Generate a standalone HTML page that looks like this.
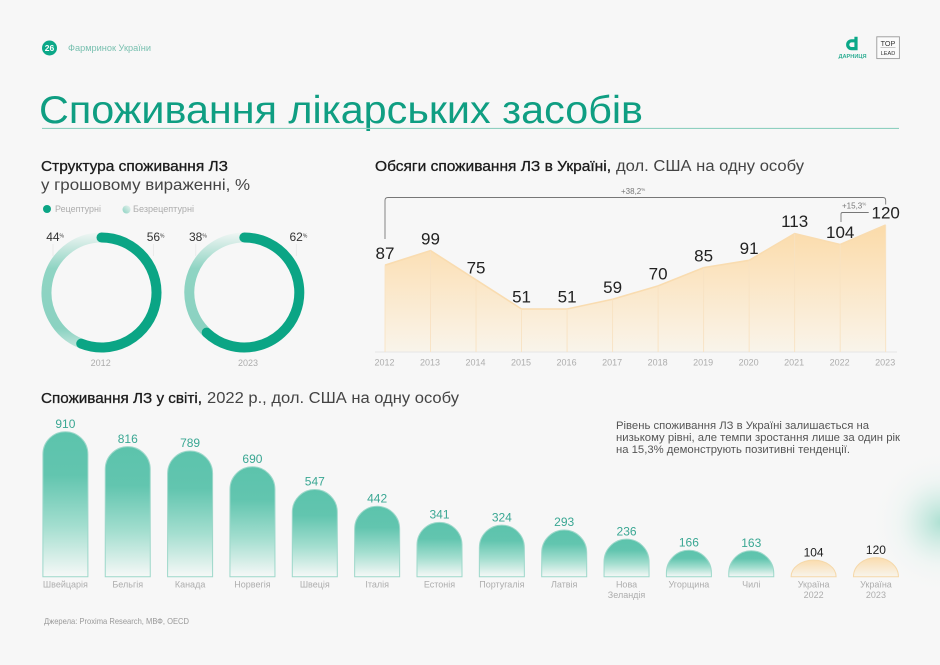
<!DOCTYPE html>
<html lang="uk">
<head>
<meta charset="utf-8">
<title>Споживання лікарських засобів</title>
<style>
html,body{margin:0;padding:0;background:#f7f7f7;}
svg{display:block;font-family:"Liberation Sans","DejaVu Sans",sans-serif;}
.semi{fill:#1c1c1c;stroke:#1c1c1c;stroke-width:.3px;}
.reg{fill:#444;}
.muted{fill:#adadad;font-size:9px;}
</style>
</head>
<body>
<svg id="page" xmlns="http://www.w3.org/2000/svg" width="940" height="665" viewBox="0 0 940 665">
<defs>
<radialGradient id="glow"><stop offset="0" stop-color="#9fdccb" stop-opacity=".85"/><stop offset=".3" stop-color="#a9e0d1" stop-opacity=".45"/><stop offset=".6" stop-color="#c5eadf" stop-opacity=".15"/><stop offset="1" stop-color="#f7f7f7" stop-opacity="0"/></radialGradient>
<linearGradient id="areaFill" x1="0" y1="0" x2="0" y2="1"><stop offset="0" stop-color="#fbdba9"/><stop offset=".45" stop-color="#fbe6c6"/><stop offset="1" stop-color="#f9f4ea"/></linearGradient>
<linearGradient id="barGreen" x1="0" y1="0" x2="0" y2="1"><stop offset="0" stop-color="#5cc3ac"/><stop offset=".3" stop-color="#62c5af"/><stop offset=".65" stop-color="#a3decf"/><stop offset="1" stop-color="#f6f8f7"/></linearGradient>
<linearGradient id="barOrange" x1="0" y1="0" x2="0" y2="1"><stop offset="0" stop-color="#fadcae"/><stop offset="1" stop-color="#f8f4ec"/></linearGradient>
<linearGradient id="legendLight" x1="1" y1="0" x2="0" y2="1"><stop offset="0" stop-color="#e9f3f0"/><stop offset="1" stop-color="#8bd2c1"/></linearGradient>
</defs>
<rect width="940" height="665" fill="#f7f7f7"/>
<circle cx="942" cy="522" r="72" fill="url(#glow)"/>

<g>
  <circle cx="49.5" cy="48" r="7.5" fill="#0ba888"/>
  <text x="49.5" y="51" text-anchor="middle" font-size="8.5" font-weight="700" fill="#fff">26</text>
  <text x="68" y="51" font-size="9" fill="#79c0b0" textLength="83" lengthAdjust="spacingAndGlyphs">Фармринок України</text>
  <path d="M856 36.8V48.6H851.6A3.9 3.9 0 0 1 851.6 40.8H856" fill="none" stroke="#0ba888" stroke-width="3.2"/>
  <text x="852.5" y="58" text-anchor="middle" font-size="5" font-weight="700" fill="#2fae94" textLength="28" lengthAdjust="spacingAndGlyphs">ДАРНИЦЯ</text>
  <rect x="876.8" y="36.8" width="22.6" height="21.8" fill="#fbfbfb" stroke="#9a9a9a" stroke-width=".9"/>
  <text x="888" y="45.8" text-anchor="middle" font-size="7.2" fill="#333">TOP</text>
  <line x1="880.5" y1="47.6" x2="895.5" y2="47.6" stroke="#aaa" stroke-width=".6"/>
  <text x="888" y="54.8" text-anchor="middle" font-size="5.6" fill="#333">LEAD</text>
</g>

<text x="39" y="123" font-size="39" fill="#0f9e82" textLength="604" lengthAdjust="spacingAndGlyphs">Споживання лікарських засобів</text>
<line x1="42" y1="128.4" x2="899" y2="128.4" stroke="#8fd0c0" stroke-width="1.1"/>

<g id="donutSection">
  <text class="semi" x="41" y="171" font-size="15" textLength="187" lengthAdjust="spacingAndGlyphs">Структура споживання ЛЗ</text>
  <text class="reg" x="41" y="190" font-size="16" textLength="209" lengthAdjust="spacingAndGlyphs">у грошовому вираженні, %</text>
  <g>
    <circle cx="47" cy="209" r="4" fill="#0ba585"/>
    <text class="muted" x="55" y="212" textLength="46" lengthAdjust="spacingAndGlyphs">Рецептурні</text>
  </g>
  <g>
    <circle cx="126.5" cy="209.5" r="4" fill="url(#legendLight)"/>
    <text class="muted" x="133" y="212" textLength="61" lengthAdjust="spacingAndGlyphs">Безрецептурні</text>
  </g>
</g>

<g id="lineSection">
  <text class="semi" x="375" y="171" font-size="15" textLength="236" lengthAdjust="spacingAndGlyphs">Обсяги споживання ЛЗ в Україні,</text>
  <text class="reg" x="616" y="171" font-size="15.5" textLength="188" lengthAdjust="spacingAndGlyphs">дол. США на одну особу</text>
  <path d="M385 239V200.5Q385 197.5 388 197.5H883Q885.7 197.5 885.7 200.5V204.5" fill="none" stroke="#777" stroke-width=".9"/>
  <text x="621" y="194" font-size="8" fill="#777">+38,2<tspan font-size="4.5" dy="-3">%</tspan></text>
  <path d="M841 222V214Q841 212.5 842.5 212.5H868.7" fill="none" stroke="#777" stroke-width=".9"/>
  <text x="842" y="208.5" font-size="8" fill="#777">+15,3<tspan font-size="4.5" dy="-3">%</tspan></text>
</g>

<g id="barSection">
  <text class="semi" x="41" y="403" font-size="15" textLength="161" lengthAdjust="spacingAndGlyphs">Споживання ЛЗ у світі,</text>
  <text class="reg" x="207" y="403" font-size="15.5" textLength="252" lengthAdjust="spacingAndGlyphs">2022 р., дол. США на одну особу</text>
</g>

<g>
  <text x="616" y="429" font-size="11.3" fill="#555" textLength="253" lengthAdjust="spacingAndGlyphs">Рівень споживання ЛЗ в Україні залишається на</text>
  <text x="616" y="441" font-size="11.3" fill="#555" textLength="284" lengthAdjust="spacingAndGlyphs">низькому рівні, але темпи зростання лише за один рік</text>
  <text x="616" y="453" font-size="11.3" fill="#555" textLength="234" lengthAdjust="spacingAndGlyphs">на 15,3% демонструють позитивні тенденції.</text>
</g>
<text x="44" y="624" font-size="8.5" fill="#999" textLength="145" lengthAdjust="spacingAndGlyphs">Джерела: Proxima Research, МВФ, OECD</text>

<script>
var donutYears = ['2012', '2023'];
var prescriptionShares = [56, 62];
var otcShares = [44, 38];

var lineYears = ['2012','2013','2014','2015','2016','2017','2018','2019','2020','2021','2022','2023'];
var lineValues = [87, 99, 75, 51, 51, 59, 70, 85, 91, 113, 104, 120];

var barCountries = [['Швейцарія'],['Бельгія'],['Канада'],['Норвегія'],['Швеція'],['Італія'],['Естонія'],['Португалія'],['Латвія'],['Нова','Зеландія'],['Угорщина'],['Чилі'],['Україна','2022'],['Україна','2023']];
var barValues = [910, 816, 789, 690, 547, 442, 341, 324, 293, 236, 166, 163, 104, 120];
var barHighlighted = [false,false,false,false,false,false,false,false,false,false,false,false,true,true];

var NS = 'http://www.w3.org/2000/svg';
function mk(tag, parent, attrs, txt) {
  var e = document.createElementNS(NS, tag);
  for (var k in attrs) e.setAttribute(k, attrs[k]);
  if (txt !== undefined) e.textContent = txt;
  parent.appendChild(e);
  return e;
}

/* ---------- donuts ---------- */
var donutSection = document.getElementById('donutSection');
var svgDefs = document.querySelector('defs');
var donutCx = function (i) { return 101.5 + i * 142.8; };
var donutCy = 292.5, donutR = 55;
var labelYearX = function (i) { return 100.7 + i * 147.3; };
function polar(cx, cy, r, pct) {
  var a = pct / 100 * 2 * Math.PI;
  return [cx + r * Math.sin(a), cy - r * Math.cos(a)];
}
function arcPath(cx, cy, r, fromPct, toPct) {
  var s = polar(cx, cy, r, fromPct), e = polar(cx, cy, r, toPct);
  var large = (toPct - fromPct) > 50 ? 1 : 0;
  return 'M' + s[0] + ' ' + s[1] + 'A' + r + ' ' + r + ' 0 ' + large + ' 1 ' + e[0] + ' ' + e[1];
}
var otcGrad = mk('linearGradient', svgDefs, {id: 'otcGrad', gradientUnits: 'userSpaceOnUse', x1: 0, y1: donutCy - 60, x2: 0, y2: donutCy + 60});
mk('stop', otcGrad, {offset: 0, 'stop-color': '#f0f6f4'});
mk('stop', otcGrad, {offset: .12, 'stop-color': '#c9e8e0'});
mk('stop', otcGrad, {offset: .3, 'stop-color': '#8fd4c3'});
mk('stop', otcGrad, {offset: .8, 'stop-color': '#8bd2c1'});
mk('stop', otcGrad, {offset: 1, 'stop-color': '#cfeae3'});
donutYears.forEach(function (year, i) {
  var cx = donutCx(i);
  var g = mk('g', donutSection, {});
  
  
  var light = mk('path', g, {d: arcPath(cx, donutCy, donutR, prescriptionShares[i], prescriptionShares[i] + otcShares[i] - 0.01), fill: 'none', stroke: 'url(#otcGrad)', 'stroke-width': 10});
  
  
  var dark = mk('path', g, {d: arcPath(cx, donutCy, donutR, 0, prescriptionShares[i]), fill: 'none', stroke: '#0ba585', 'stroke-width': 10, 'stroke-linecap': 'round'});
  
  
  var pairs = [[otcShares[i], cx - 48.5], [prescriptionShares[i], cx + 52]];
  pairs.forEach(function (p) {
    var leader = mk('line', g, {x1: p[1], x2: p[1], y1: 244, y2: 256, stroke: '#e6e6e6', 'stroke-width': .7});
    
    
    var t = mk('text', g, {x: p[1] - 6.8, y: 241, 'font-size': 12, fill: '#333'}, p[0]);
    
    
    mk('tspan', t, {'font-size': 5, dy: -3.5}, '%');
  });
  var yl = mk('text', g, {x: labelYearX(i), y: 366, 'text-anchor': 'middle', class: 'muted'}, year);
  
  
});

/* ---------- area chart ---------- */
var lineSection = document.getElementById('lineSection');
var lineBase = 352;
function lineX(i) { return 385 + i * (500.7 / (lineYears.length - 1)); }
function lineY(v) { return 309 - (v - 51) * 1.217; }
var linePoints = lineValues.map(function (v, i) { return lineX(i) + ' ' + lineY(v); }).join('L');
var area = mk('path', lineSection, {d: 'M' + lineX(0) + ' ' + lineBase + 'L' + linePoints + 'L' + lineX(lineValues.length - 1) + ' ' + lineBase + 'Z', fill: 'url(#areaFill)'});


var topLine = mk('path', lineSection, {d: 'M' + linePoints, fill: 'none', stroke: '#f9dcb0', 'stroke-width': 1.6});


var axisLine = mk('line', lineSection, {x1: 375, x2: 897, y1: lineBase, y2: lineBase, stroke: '#e6e6e6', 'stroke-width': 1});


lineValues.forEach(function (v, i) {
  var x = lineX(i), y = lineY(v);
  var drop = mk('line', lineSection, {x1: x, x2: x, y1: y, y2: lineBase, stroke: '#f8e2c2', 'stroke-width': .9});
  
  
  var val = mk('text', lineSection, {x: x, y: y - 6.3, 'text-anchor': 'middle', 'font-size': 17, fill: '#222'}, v);
  
  
  var tick = mk('text', lineSection, {x: x - 0.5, y: 365.5, 'text-anchor': 'middle', class: 'muted'}, lineYears[i]);
  
  
});

/* ---------- bars ---------- */
var barSection = document.getElementById('barSection');
var barBase = 576.7, barW = 45, barR = 22.5;
function barX(i) { return 42.9 + i * 62.35; }
function barH(v) { return v * (145 / 910); }
barValues.forEach(function (v, i) {
  var x = barX(i), h = barH(v), t = barBase - h, d;
  if (h >= barR) {
    d = 'M' + x + ' ' + barBase + 'V' + (t + barR) + 'A' + barR + ' ' + barR + ' 0 0 1 ' + (x + barW) + ' ' + (t + barR) + 'V' + barBase + 'Z';
  } else {
    d = 'M' + x + ' ' + barBase + 'A' + barR + ' ' + h + ' 0 0 1 ' + (x + barW) + ' ' + barBase + 'Z';
  }
  var hi = barHighlighted[i];
  var bar = mk('path', barSection, {d: d, fill: hi ? 'url(#barOrange)' : 'url(#barGreen)', stroke: hi ? '#f5d8a9' : '#9dd8ca', 'stroke-width': 1});
  
  
  var val = mk('text', barSection, {x: x + barW / 2, y: t - 3.8, 'text-anchor': 'middle', 'font-size': 12, fill: hi ? '#222' : '#3aa793'}, v);
  
  
  barCountries[i].forEach(function (line, j) {
    var nm = mk('text', barSection, {x: x + barW / 2, y: 587.7 + j * 10.4, 'text-anchor': 'middle', class: 'muted'}, line);
    
    
  });
});
</script>
</svg>
</body>
</html>
